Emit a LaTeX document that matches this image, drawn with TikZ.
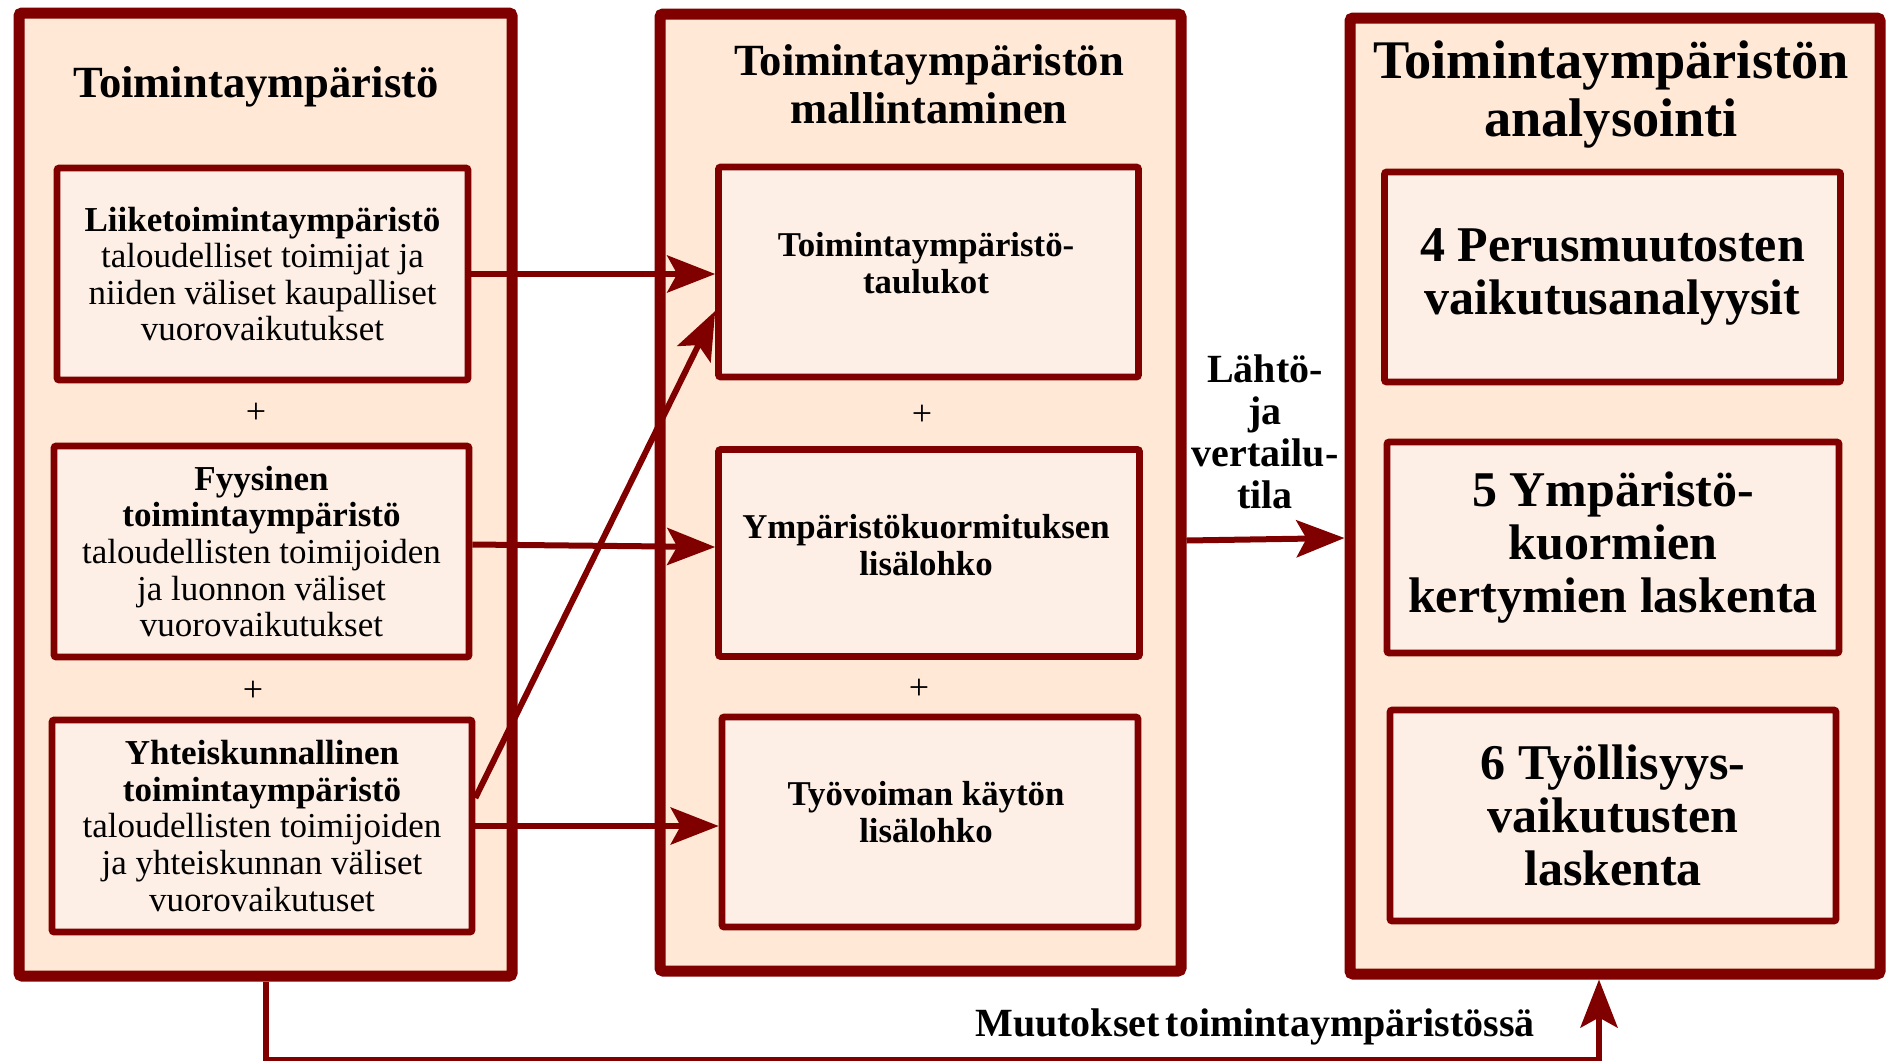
\documentclass[tikz,border=0pt]{standalone}
\usepackage{fontspec}
\setmainfont{Liberation Serif}
\usetikzlibrary{arrows.meta,calc}
\definecolor{dred}{HTML}{800000}
\definecolor{outerfill}{HTML}{FFE8D5}
\definecolor{innerfill}{HTML}{FDEFE5}
\begin{document}
\begin{tikzpicture}[x=0.5pt,y=-0.5pt,
  outerbox/.style={draw=dred, fill=outerfill, line width=5.5pt, rounded corners=1.5pt, inner sep=0pt},
  innerbox/.style={draw=dred, fill=innerfill, line width=3.3pt, rounded corners=1pt, inner sep=0pt, align=center},
  ltxt/.style={font={\fontsize{17.5pt}{18.3pt}\selectfont}},
  mtxt/.style={font={\bfseries\fontsize{17.4pt}{18.6pt}\selectfont}, align=center, inner sep=0pt},
  rtxt/.style={font={\bfseries\fontsize{25pt}{26.5pt}\selectfont}},
  ttlA/.style={font={\bfseries\fontsize{22.3pt}{24pt}\selectfont}, align=center, inner sep=0pt},
  ttlB/.style={font={\bfseries\fontsize{27.2pt}{29pt}\selectfont}, align=center, inner sep=0pt},
  lbl/.style={font={\bfseries\fontsize{20pt}{21pt}\selectfont}, align=center, inner sep=0pt},
  plus/.style={font={\fontsize{18pt}{18pt}\selectfont}, inner sep=0pt},
  conn/.style={draw=dred, line width=3pt, -{Stealth[length=24pt, width=18.5pt, inset=5pt]}, line join=miter}
]
\useasboundingbox (0,0) rectangle (1892,1061);

% outer boxes
\node[outerbox, minimum width=246.5pt, minimum height=481.5pt] (LB) at (265.5,494.5) {};
\node[outerbox, minimum width=260.5pt, minimum height=478.5pt] (MB) at (920.5,492.5) {};
\node[outerbox, minimum width=265pt, minimum height=478pt] (RB) at (1615,496) {};

% titles
\node[ttlA] (tL) at (256,87) {Toimintaympäristö};
\node[ttlA] (tM) at (929,84) {Toimintaympäristön\\mallintaminen};
\node[ttlB] (tR) at (1611,94) {Toimintaympäristön\\analysointi};

% left inner boxes
\node[innerbox, ltxt, minimum width=205.5pt, minimum height=106pt] (L1) at (262.5,274)
  {\textbf{Liiketoimintaympäristö}\\taloudelliset toimijat ja\\niiden väliset kaupalliset\\vuorovaikutukset};
\node[innerbox, ltxt, minimum width=207.5pt, minimum height=105.5pt] (L2) at (261.5,551.5)
  {\textbf{Fyysinen}\\\textbf{toimintaympäristö}\\taloudellisten toimijoiden\\ja luonnon väliset\\vuorovaikutukset};
\node[innerbox, ltxt, minimum width=210pt, minimum height=106pt] (L3) at (262,826)
  {\textbf{Yhteiskunnallinen}\\\textbf{toimintaympäristö}\\taloudellisten toimijoiden\\ja yhteiskunnan väliset\\vuorovaikutuset};
\node[plus] (p1) at (256,413) {+};
\node[plus] (p2) at (253,691) {+};

% middle inner boxes
\node[innerbox, minimum width=210pt, minimum height=105pt] (M1) at (928.5,272) {};
\node[innerbox, minimum width=210.5pt, minimum height=103.5pt] (M2) at (929,553) {};
\node[innerbox, minimum width=208pt, minimum height=105pt] (M3) at (930,822) {};
\node[mtxt] (m1t) at (926,263) {Toimintaympäristö-\\taulukot};
\node[mtxt] (m2t) at (926,545) {Ympäristökuormituksen\\lisälohko};
\node[mtxt] (m3t) at (926,812) {Työvoiman käytön\\lisälohko};
\node[plus] (p3) at (922,415) {+};
\node[plus] (p4) at (919,689) {+};

% right inner boxes
\node[innerbox, rtxt, minimum width=228pt, minimum height=105pt] (R1) at (1612.5,277)
  {4 Perusmuutosten\\vaikutusanalyysit};
\node[innerbox, rtxt, minimum width=226pt, minimum height=105.5pt] (R2) at (1613,547.5)
  {5 Ympäristö-\\kuormien\\kertymien laskenta};
\node[innerbox, rtxt, minimum width=223pt, minimum height=105.5pt] (R3) at (1613,815.5)
  {6 Työllisyys-\\vaikutusten\\laskenta};

% connectors
\draw[conn] (L1.east) -- (L1.east -| M1.west);
\draw[conn] ([yshift=3.5pt]L2.east) -- ([yshift=3pt]M2.west);
\draw[conn] ([yshift=14pt]L3.east) -- ([yshift=-19.5pt]M1.west);
\draw[conn] (L3.east) -- (L3.east -| M3.west);
\draw[conn] ([yshift=-24pt]MB.east) -- ([yshift=-21pt]RB.west);

\node[lbl] (lab1) at (1265,432) {Lähtö-\\ja\\vertailu-\\tila};

\coordinate (fb) at ($(RB.south)+(-16,0)$);
\draw[conn] (LB.south) -- ++(0,78) -| (fb);
\node[lbl] (lab2) at (1255,1027) {Muutokset\hspace{3pt}toimintaympäristössä};
\end{tikzpicture}
\end{document}
